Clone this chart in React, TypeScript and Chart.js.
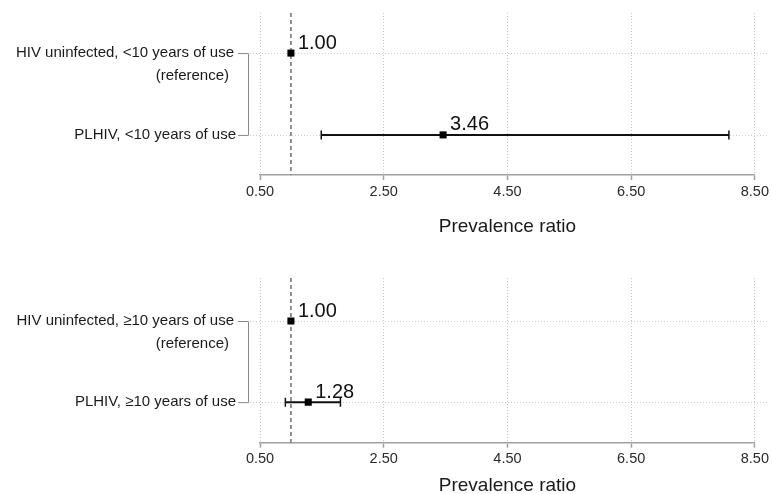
import React, { useEffect, useRef } from "react";
import { Chart, registerables } from "chart.js";

Chart.register(...registerables);

// ---------- data ----------
const xTicks = [0.5, 2.5, 4.5, 6.5, 8.5];
const referenceValue = 1;

const topCategories = [
  ["HIV uninfected, <10 years of use", "(reference)"],
  ["PLHIV, <10 years of use"],
];
const topEstimates = [1.0, 3.46];
const topLower = [null, 1.49];
const topUpper = [null, 8.08];

const bottomCategories = [
  ["HIV uninfected, \u226510 years of use", "(reference)"],
  ["PLHIV, \u226510 years of use"],
];
const bottomEstimates = [1.0, 1.28];
const bottomLower = [null, 0.91];
const bottomUpper = [null, 1.8];

const axisTitle = "Prevalence ratio";

const FONT = '"Liberation Sans", Arial, Helvetica, sans-serif';

type PanelCfg = {
  categories: string[][];
  est: number[];
  lo: (number | null)[];
  hi: (number | null)[];
  padTop: number;
  axisHeight: number;
  titlePadBottom: number;
  yMin: number;
  yMax: number;
};

function buildChart(canvas: HTMLCanvasElement, p: PanelCfg) {
  const rows = p.est.map((_, i) => i + 1);
  const pointData = p.est.map((v, i) => ({ x: v, y: rows[i] }));
  const ciSets: any[] = [];
  p.est.forEach((_, i) => {
    if (p.lo[i] != null && p.hi[i] != null) {
      ciSets.push({
        type: "line",
        data: [
          { x: p.lo[i], y: rows[i] },
          { x: p.hi[i], y: rows[i] },
        ],
        borderColor: "#111",
        borderWidth: 2,
        pointStyle: "line",
        rotation: 90,
        pointRadius: 4.5,
        pointBorderWidth: 1.5,
        pointBorderColor: "#111",
        showLine: true,
        fill: false,
      });
    }
  });

  const overlay = {
    id: "forestOverlay",
    beforeDatasetsDraw(chart: any) {
      const ctx = chart.ctx;
      const xs = chart.scales.x;
      const ys = chart.scales.y;
      const ca = chart.chartArea;
      ctx.save();
      // horizontal dotted row lines
      ctx.strokeStyle = "#cfcfcf";
      ctx.lineWidth = 1;
      ctx.setLineDash([1, 2]);
      rows.forEach((r) => {
        const y = Math.round(ys.getPixelForValue(r)) + 0.5;
        ctx.beginPath();
        ctx.moveTo(250, y);
        ctx.lineTo(768, y);
        ctx.stroke();
      });
      // reference dashed line
      const xr = xs.getPixelForValue(referenceValue);
      ctx.strokeStyle = "#6e6e6e";
      ctx.lineWidth = 1.5;
      ctx.setLineDash([4, 3]);
      ctx.beginPath();
      ctx.moveTo(xr, ca.top);
      ctx.lineTo(xr, ca.bottom);
      ctx.stroke();
      ctx.setLineDash([]);
      // bracket
      const y1 = ys.getPixelForValue(rows[0]);
      const y2 = ys.getPixelForValue(rows[rows.length - 1]);
      ctx.strokeStyle = "#8a8a8a";
      ctx.lineWidth = 1;
      ctx.beginPath();
      ctx.moveTo(238, y1 + 0.5);
      ctx.lineTo(248.5, y1 + 0.5);
      ctx.lineTo(248.5, y2 + 0.5);
      ctx.lineTo(238, y2 + 0.5);
      ctx.stroke();
      // category labels
      ctx.fillStyle = "#1a1a1a";
      ctx.font = "15px " + FONT;
      ctx.textAlign = "right";
      ctx.textBaseline = "middle";
      p.categories.forEach((lines, i) => {
        const y = ys.getPixelForValue(rows[i]);
        lines.forEach((ln, j) => {
          const right = j === 0 ? (lines.length > 1 ? 234 : 236) : 229;
          ctx.fillText(ln, right, y + j * 23);
        });
      });
      ctx.restore();
    },
    afterDatasetsDraw(chart: any) {
      const ctx = chart.ctx;
      const xs = chart.scales.x;
      const ys = chart.scales.y;
      ctx.save();
      ctx.fillStyle = "#111";
      ctx.font = "20px " + FONT;
      ctx.textAlign = "left";
      ctx.textBaseline = "middle";
      p.est.forEach((v, i) => {
        const x = xs.getPixelForValue(v);
        const y = ys.getPixelForValue(rows[i]);
        ctx.fillText(v.toFixed(2), x + 7, y - 10);
      });
      ctx.restore();
    },
  };

  return new Chart(canvas, {
    type: "scatter",
    data: {
      datasets: [
        {
          type: "scatter",
          data: pointData,
          pointStyle: "rect",
          pointRadius: 5,
          pointBackgroundColor: "#000",
          pointBorderColor: "#000",
          pointBorderWidth: 0,
        } as any,
        ...ciSets,
      ],
    },
    options: {
      animation: false,
      responsive: false,
      events: [],
      layout: {
        padding: { top: p.padTop, left: 260, right: 16.3, bottom: 0 },
      },
      plugins: {
        legend: { display: false },
        tooltip: { enabled: false },
      },
      scales: {
        x: {
          type: "linear",
          min: xTicks[0],
          max: xTicks[xTicks.length - 1],
          afterBuildTicks: (s: any) => {
            s.ticks = xTicks.map((v) => ({ value: v }));
          },
          afterFit: (s: any) => {
            s.height = p.axisHeight;
          },
          border: { display: true, color: "#a0a0a0", width: 1.5, dash: [1, 2] },
          grid: {
            display: true,
            color: "#c8c8c8",
            lineWidth: 1,
            drawTicks: true,
            tickLength: 5,
            tickColor: "#a0a0a0",
            tickWidth: 1.5,
            tickBorderDash: [],
          } as any,
          ticks: {
            color: "#2a2a2a",
            font: { family: FONT, size: 14.5 },
            padding: 3,
            maxRotation: 0,
            callback: (v: any) => Number(v).toFixed(2),
          },
          title: {
            display: true,
            text: axisTitle,
            color: "#1a1a1a",
            font: { family: FONT, size: 19, lineHeight: "16px" } as any,
            padding: { top: 0, bottom: p.titlePadBottom },
          },
        },
        y: {
          type: "linear",
          display: false,
          reverse: true,
          min: p.yMin,
          max: p.yMax,
        },
      },
    },
    plugins: [overlay],
  } as any);
}

function Panel({ cfg, top, height }: { cfg: PanelCfg; top: number; height: number }) {
  const ref = useRef<HTMLCanvasElement | null>(null);
  useEffect(() => {
    if (!ref.current) return;
    const c = buildChart(ref.current, cfg);
    return () => c.destroy();
  }, []);
  return (
    <canvas
      ref={ref}
      width={772}
      height={height}
      style={{ position: "absolute", left: 0, top, width: 772, height }}
    />
  );
}

export default function App() {
  const topCfg: PanelCfg = {
    categories: topCategories,
    est: topEstimates,
    lo: topLower,
    hi: topUpper,
    padTop: 13,
    axisHeight: 72,
    titlePadBottom: 12,
    yMin: 0.51,
    yMax: 2.49,
  };
  const bottomCfg: PanelCfg = {
    categories: bottomCategories,
    est: bottomEstimates,
    lo: bottomLower,
    hi: bottomUpper,
    padTop: 31,
    axisHeight: 51.3,
    titlePadBottom: 0,
    yMin: 0.47,
    yMax: 2.5,
  };
  return (
    <div style={{ position: "absolute", left: 0, top: 0, width: 772, height: 494, background: "#fff" }}>
      <Panel cfg={topCfg} top={0} height={247} />
      <Panel cfg={bottomCfg} top={247} height={247} />
    </div>
  );
}
